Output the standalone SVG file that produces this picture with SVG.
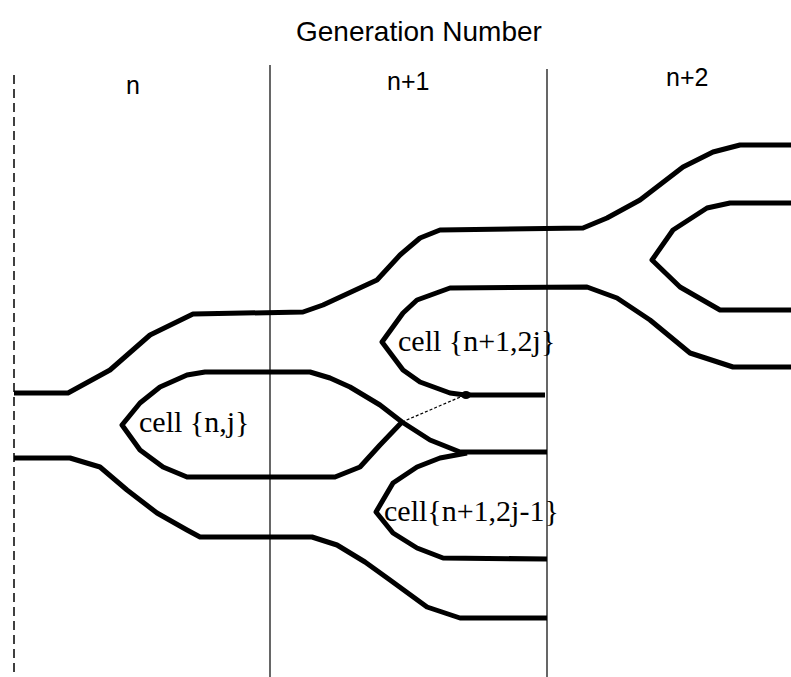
<svg xmlns="http://www.w3.org/2000/svg" width="791" height="677" viewBox="0 0 791 677">
<style>
.wall{fill:none;stroke:#000;stroke-width:5;stroke-linejoin:round;stroke-linecap:butt}
.div{stroke:#000;stroke-width:1.2;fill:none}
.dash{stroke:#000;stroke-width:1.5;stroke-dasharray:9,5;fill:none}
.dot{stroke:#000;stroke-width:1.2;stroke-dasharray:3,2;fill:none}
.sans{font-family:"Liberation Sans",Arial,sans-serif;font-size:25px;fill:#000}
.serif{font-family:"Liberation Serif","Times New Roman",serif;font-size:30px;fill:#000}
</style>
<rect width="791" height="677" fill="#fff"/>
<g id="axes">
<line class="dash" x1="14" y1="75" x2="14" y2="677"/>
<line class="div" x1="270" y1="65" x2="270" y2="677"/>
<line class="div" x1="547" y1="69" x2="547" y2="677"/>
<text class="sans" x="296" y="41" style="font-size:28px">Generation Number</text>
<text class="sans" x="126" y="94">n</text>
<text class="sans" x="387" y="90">n+1</text>
<text class="sans" x="666" y="86">n+2</text>
</g>
<g id="connectors">
<polyline class="wall" points="14,393 68,393 110,370 150,335 193,314 303,312 323,305 377,280 400,255 420,238 440,230 583,228 607,218 640,200 683,167 713,152 740,145 791,145"/>
<polyline class="wall" points="14,458 70,458 100,467 127,490 157,513 187,530 200,537 312,537 337,545 365,562 390,580 427,607 460,618 547,618"/>
<line class="dot" x1="402" y1="422" x2="465" y2="395"/>
</g>
<g id="cell-n-j">
<polyline class="wall" points="402,422 380,445 360,467 335,477 187,477 163,467 140,450 122,425 140,403 160,387 187,375 205,372 310,372 330,378 350,387 380,405 402,422 430,440 460,452 547,452"/>
<text class="serif" x="139" y="432">cell {n,j}</text>
</g>
<g id="cell-n1-2j">
<polyline class="wall" points="545,395 465,395 450,393 420,382 403,370 382,342 403,313 417,300 450,288 587,287 617,298 650,320 690,353 733,367 791,367"/>
<ellipse cx="466" cy="395" rx="5" ry="4" fill="#000"/>
<text class="serif" x="398" y="351">cell {n+1,2j}</text>
</g>
<g id="cell-n1-2j-1">
<polyline class="wall" points="467,453 440,458 417,467 393,483 376,512 393,533 417,548 443,558 547,559"/>
<text class="serif" x="384" y="521">cell{n+1,2j-1}</text>
</g>
<g id="cell-n2">
<polyline class="wall" points="791,203 730,203 707,208 673,230 652,260 680,287 720,310 791,310"/>
</g>
</svg>
